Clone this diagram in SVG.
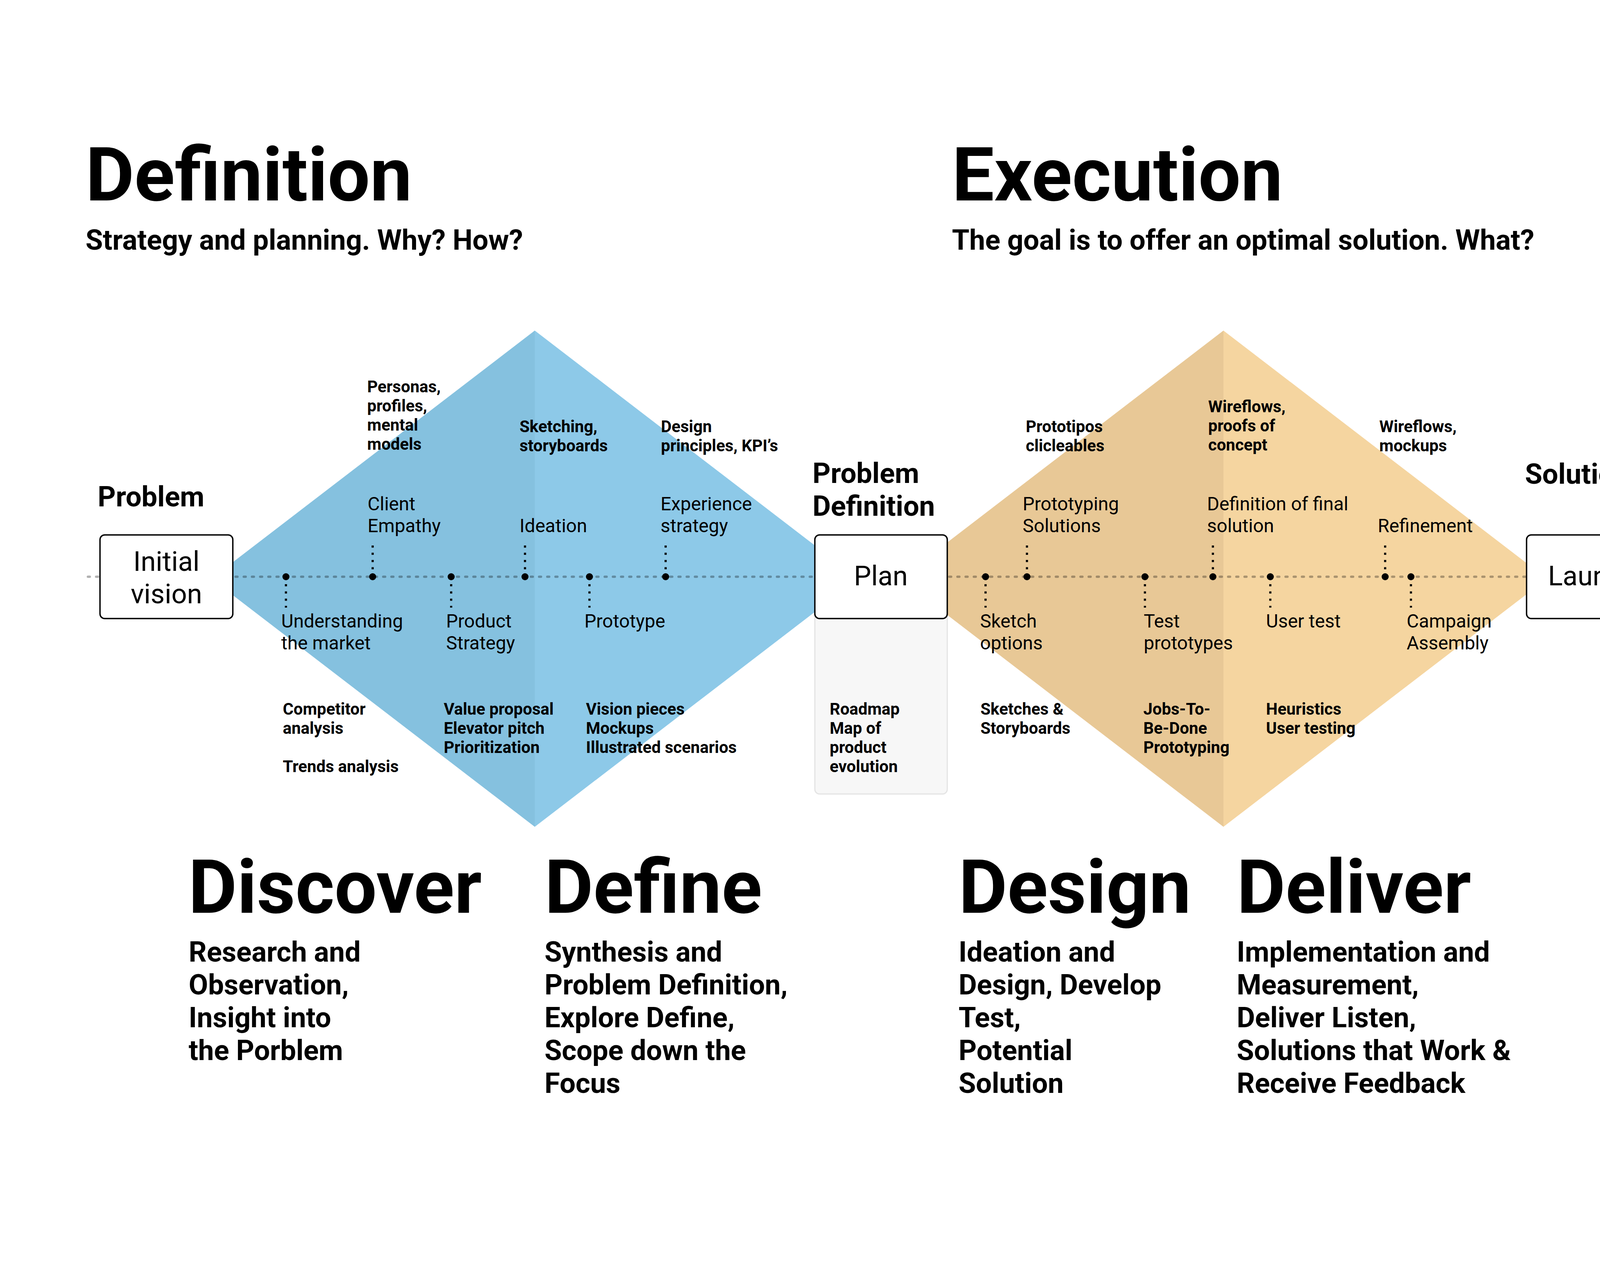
<svg xmlns="http://www.w3.org/2000/svg" width="5760" height="3240" viewBox="0 0 5760 3240">
<defs>
<style>
text{font-family:Roboto,"Liberation Sans",sans-serif;fill:#000}
.h1{font-size:192px;font-weight:700}
.h2{font-size:72px;font-weight:700}
.lbl{font-size:48px;font-weight:400}
.sm{font-size:42px;font-weight:700}
.bx{font-size:70px;font-weight:400}
.box{fill:#fff;stroke:#000;stroke-width:3.5}
.dot{fill:#000}
.vc{stroke:#000;stroke-width:5.5;stroke-dasharray:5.5 13;fill:none}
.main{stroke:#000;stroke-opacity:0.3;stroke-width:6;stroke-dasharray:5 16;stroke-linecap:round;fill:none}
</style>
</defs>
<rect width="5760" height="3240" fill="#fff"/>

<g id="headers">
<text class="h1" x="219" y="513">Definition</text>
<text class="h2" x="219" y="639">Strategy and planning. Why? How?</text>
<text class="h1" x="2437" y="513">Execution</text>
<text class="h2" x="2437" y="639">The goal is to offer an optimal solution. What?</text>
<text class="h1" x="4245" y="513">Iteration</text>
<text class="h2" x="4247" y="639">Iterative testing and learning</text>
</g>

<g id="diamond-blue">
<polygon points="1369,846 541,1481 1369,2116" fill="#85C1DF"/>
<polygon points="1369,846 2197,1481 1369,2116" fill="#8DC9E8"/>
</g>
<g id="diamond-orange">
<polygon points="3132,846 2304,1481 3132,2116" fill="#E8C896"/>
<polygon points="3132,846 3960,1481 3132,2116" fill="#F5D5A0"/>
</g>
<g id="diamond-grey-1">
<polygon points="4547,1269 4275,1482 4547,1695" fill="#E4E4E4"/>
<polygon points="4547,1269 4820,1482 4547,1695" fill="#D7D7D7"/>
</g>
<g id="diamond-grey-2">
<polygon points="5092,1269 4820,1482 5092,1695" fill="#E4E4E4"/>
<polygon points="5092,1269 5364,1482 5092,1695" fill="#D7D7D7"/>
</g>

<g id="plan-notes">
<rect x="2086" y="1369" width="339" height="663" rx="12" fill="#F7F7F7" stroke="#E4E4E4" stroke-width="3"/>
<text class="sm" x="2124" y="1829">Roadmap<tspan x="2124" dy="49">Map of</tspan><tspan x="2124" dy="49">product</tspan><tspan x="2124" dy="49">evolution</tspan></text>
</g>

<g id="connectors">
<line class="main" x1="225" y1="1476" x2="5500" y2="1476"/>
<line class="vc" x1="732" y1="1495" x2="732" y2="1555"/>
<line class="vc" x1="954" y1="1457" x2="954" y2="1394"/>
<line class="vc" x1="1155" y1="1495" x2="1155" y2="1555"/>
<line class="vc" x1="1344" y1="1457" x2="1344" y2="1394"/>
<line class="vc" x1="1509" y1="1495" x2="1509" y2="1555"/>
<line class="vc" x1="1704" y1="1457" x2="1704" y2="1394"/>
<line class="vc" x1="2523" y1="1495" x2="2523" y2="1555"/>
<line class="vc" x1="2629" y1="1457" x2="2629" y2="1394"/>
<line class="vc" x1="2931" y1="1495" x2="2931" y2="1555"/>
<line class="vc" x1="3105" y1="1457" x2="3105" y2="1394"/>
<line class="vc" x1="3252" y1="1495" x2="3252" y2="1555"/>
<line class="vc" x1="3546" y1="1457" x2="3546" y2="1394"/>
<line class="vc" x1="3612" y1="1495" x2="3612" y2="1555"/>
</g>

<g id="box-initial-vision">
<text class="h2" x="250" y="1296">Problem</text>
<rect class="box" x="256" y="1369" width="340" height="214" rx="12"/>
<text class="bx" x="426" y="1461" text-anchor="middle">Initial<tspan x="426" dy="83">vision</tspan></text>
</g>
<g id="box-plan">
<text class="h2" x="2080" y="1236">Problem<tspan x="2080" dy="84">Definition</tspan></text>
<rect class="box" x="2086" y="1369" width="339" height="214" rx="12"/>
<text class="bx" x="2255" y="1498" text-anchor="middle">Plan</text>
</g>
<g id="box-launch">
<text class="h2" x="3904" y="1238">Solution</text>
<rect class="box" x="3908" y="1369" width="338" height="214" rx="12"/>
<text class="bx" x="4077" y="1498" text-anchor="middle">Launch</text>
</g>

<g id="node-understanding">
<circle class="dot" cx="732" cy="1476" r="9"/>
<text class="lbl" x="720" y="1606">Understanding<tspan x="720" dy="56">the market</tspan></text>
<text class="sm" x="724" y="1829">Competitor<tspan x="724" dy="49">analysis</tspan><tspan x="724" dy="98">Trends analysis</tspan></text>
</g>
<g id="node-client-empathy">
<circle class="dot" cx="954" cy="1476" r="9"/>
<text class="lbl" x="941" y="1306">Client<tspan x="941" dy="56">Empathy</tspan></text>
<text class="sm" x="940" y="1004">Personas,<tspan x="940" dy="49">profiles,</tspan><tspan x="940" dy="49">mental</tspan><tspan x="940" dy="49">models</tspan></text>
</g>
<g id="node-product-strategy">
<circle class="dot" cx="1155" cy="1476" r="9"/>
<text class="lbl" x="1142" y="1606">Product<tspan x="1142" dy="56">Strategy</tspan></text>
<text class="sm" x="1136" y="1829">Value proposal<tspan x="1136" dy="49">Elevator pitch</tspan><tspan x="1136" dy="49">Prioritization</tspan></text>
</g>
<g id="node-ideation">
<circle class="dot" cx="1344" cy="1476" r="9"/>
<text class="lbl" x="1330" y="1362">Ideation</text>
<text class="sm" x="1330" y="1106">Sketching,<tspan x="1330" dy="49">storyboards</tspan></text>
</g>
<g id="node-prototype">
<circle class="dot" cx="1509" cy="1476" r="9"/>
<text class="lbl" x="1496" y="1606">Prototype</text>
<text class="sm" x="1500" y="1829">Vision pieces<tspan x="1500" dy="49">Mockups</tspan><tspan x="1500" dy="49">Illustrated scenarios</tspan></text>
</g>
<g id="node-experience-strategy">
<circle class="dot" cx="1704" cy="1476" r="9"/>
<text class="lbl" x="1691" y="1306">Experience<tspan x="1691" dy="56">strategy</tspan></text>
<text class="sm" x="1692" y="1106">Design<tspan x="1692" dy="49">principles, KPI’s</tspan></text>
</g>

<g id="node-sketch-options">
<circle class="dot" cx="2523" cy="1476" r="9"/>
<text class="lbl" x="2509" y="1606">Sketch<tspan x="2509" dy="56">options</tspan></text>
<text class="sm" x="2510" y="1829">Sketches &amp;<tspan x="2510" dy="49">Storyboards</tspan></text>
</g>
<g id="node-prototyping-solutions">
<circle class="dot" cx="2629" cy="1476" r="9"/>
<text class="lbl" x="2618" y="1306">Prototyping<tspan x="2618" dy="56">Solutions</tspan></text>
<text class="sm" x="2626" y="1106">Prototipos<tspan x="2626" dy="49">clicleables</tspan></text>
</g>
<g id="node-test-prototypes">
<circle class="dot" cx="2931" cy="1476" r="9"/>
<text class="lbl" x="2928" y="1606">Test<tspan x="2928" dy="56">prototypes</tspan></text>
<text class="sm" x="2927" y="1829">Jobs-To-<tspan x="2927" dy="49">Be-Done</tspan><tspan x="2927" dy="49">Prototyping</tspan></text>
</g>
<g id="node-final-solution">
<circle class="dot" cx="3105" cy="1476" r="9"/>
<text class="lbl" x="3090" y="1306">Definition of final<tspan x="3090" dy="56">solution</tspan></text>
<text class="sm" x="3093" y="1055">Wireflows,<tspan x="3093" dy="49">proofs of</tspan><tspan x="3093" dy="49">concept</tspan></text>
</g>
<g id="node-user-test">
<circle class="dot" cx="3252" cy="1476" r="9"/>
<text class="lbl" x="3241" y="1606">User test</text>
<text class="sm" x="3241" y="1829">Heuristics<tspan x="3241" dy="49">User testing</tspan></text>
</g>
<g id="node-refinement">
<circle class="dot" cx="3546" cy="1476" r="9"/>
<text class="lbl" x="3527" y="1362">Refinement</text>
<text class="sm" x="3531" y="1106">Wireflows,<tspan x="3531" dy="49">mockups</tspan></text>
</g>
<g id="node-campaign-assembly">
<circle class="dot" cx="3612" cy="1476" r="9"/>
<text class="lbl" x="3601" y="1606">Campaign<tspan x="3601" dy="56">Assembly</tspan></text>
</g>

<g id="phase-discover">
<text class="h1" x="482" y="2336">Discover</text>
<text class="h2" x="483" y="2461">Research and<tspan x="483" dy="84">Observation,</tspan><tspan x="483" dy="84">Insight into</tspan><tspan x="483" dy="84">the Porblem</tspan></text>
</g>
<g id="phase-define">
<text class="h1" x="1394" y="2336">Define</text>
<text class="h2" x="1394" y="2461">Synthesis and<tspan x="1394" dy="84">Problem Definition,</tspan><tspan x="1394" dy="84">Explore Define,</tspan><tspan x="1394" dy="84">Scope down the</tspan><tspan x="1394" dy="84">Focus</tspan></text>
</g>
<g id="phase-design">
<text class="h1" x="2454" y="2336">Design</text>
<text class="h2" x="2454" y="2461">Ideation and<tspan x="2454" dy="84">Design, Develop</tspan><tspan x="2454" dy="84">Test,</tspan><tspan x="2454" dy="84">Potential</tspan><tspan x="2454" dy="84">Solution</tspan></text>
</g>
<g id="phase-deliver">
<text class="h1" x="3166" y="2336">Deliver</text>
<text class="h2" x="3166" y="2461">Implementation and<tspan x="3166" dy="84">Measurement,</tspan><tspan x="3166" dy="84">Deliver Listen,</tspan><tspan x="3166" dy="84">Solutions that Work &amp;</tspan><tspan x="3166" dy="84">Receive Feedback</tspan></text>
</g>
</svg>
